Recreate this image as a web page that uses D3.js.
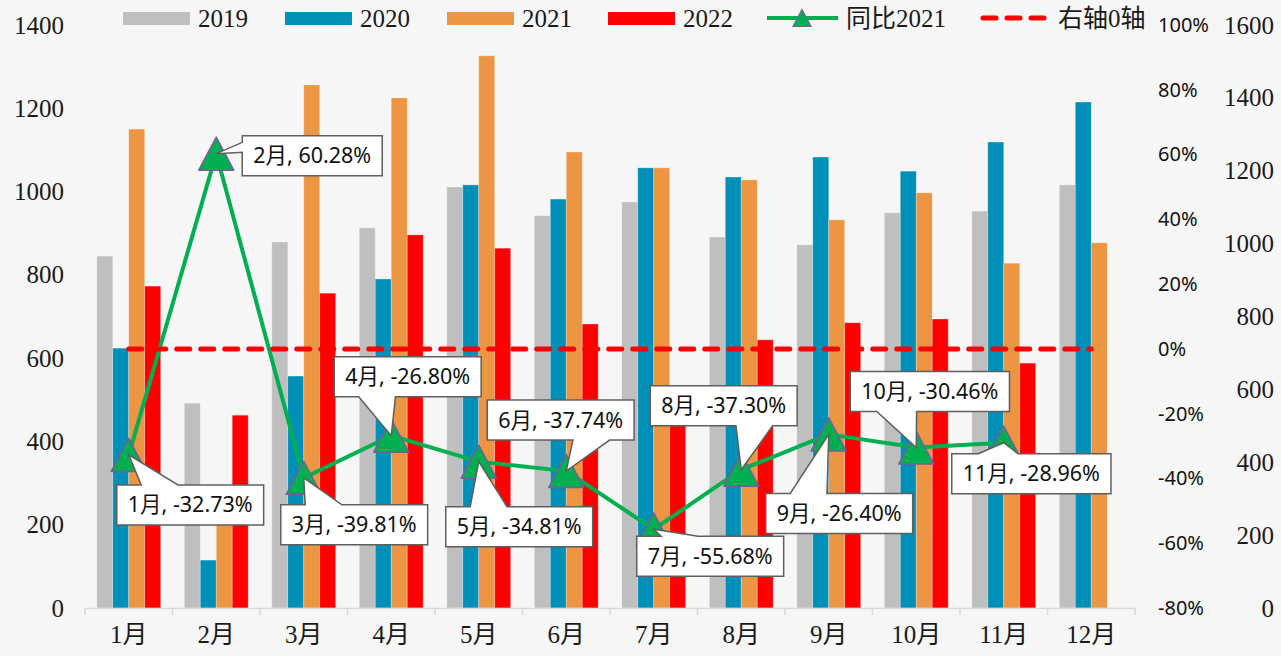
<!DOCTYPE html>
<html>
<head>
<meta charset="utf-8">
<script src="https://cdn.jsdelivr.net/npm/d3@7"></script>
<style>
  body { margin: 0; background: #f6f6f6; }
  svg { display: block; }
  .serif text, text.serif { font-family: "Liberation Serif", "Noto Sans CJK SC", serif; fill: #1a1a1a; }
  .sans text { font-family: "Noto Sans", "Noto Sans CJK SC", sans-serif; fill: #111; }
</style>
</head>
<body>
<div class="chart"></div>
<script>
// data
// ==========================================================================
var months = ["1月", "2月", "3月", "4月", "5月", "6月", "7月", "8月", "9月", "10月", "11月", "12月"];
var years = ["2019", "2020", "2021", "2022"];

var v2019 = [845, 492, 879, 913, 1011, 942, 975, 891, 872, 949, 953, 1016];
var v2020 = [624, 115, 557, 790, 1016, 982, 1057, 1035, 1083, 1049, 1119, 1215];
var v2021 = [1150, 223, 1256, 1225, 1326, 1095, 1057, 1028, 932, 997, 828, 877];
var v2022 = [773, 463, 756, 896, 864, 682, 468, 644, 685, 694, 588, null];

// 同比2021 (%), no value for 12月
var yoy = [-32.73, 60.28, -39.81, -26.80, -34.81, -37.74, -55.68, -37.30, -26.40, -30.46, -28.96];
// 右轴0轴
var zeroLine = [0, 0, 0, 0, 0, 0, 0, 0, 0, 0, 0, 0];

var leftTicks = [0, 200, 400, 600, 800, 1000, 1200, 1400];
var pctTicks = [-80, -60, -40, -20, 0, 20, 40, 60, 80, 100];
var rightTicks = [0, 200, 400, 600, 800, 1000, 1200, 1400, 1600];

// layout
// ==========================================================================
var svgWidth = 1281;
var svgHeight = 656;
var plot = { left: 85, right: 1135, top: 25, bottom: 608 };

var colors = { "2019": "#bfbfbf", "2020": "#008fb6", "2021": "#ec9542", "2022": "#ff0000" };
var lineColor = "#00b050";
var markerStroke = "#7a5c9e";

// callout box top-left offset from its point (px)
var labelOffsets = [[-12, 30], [26, -18], [-23, 27], [-57, -79], [-33, 45], [-79, -71],
  [-17, 7], [-91, -84], [-63, 59], [-66, -76], [-52, 11]];

var svg = d3.select(".chart")
  .append("svg")
  .attr("width", svgWidth)
  .attr("height", svgHeight);

svg.append("rect")
  .attr("width", svgWidth)
  .attr("height", svgHeight)
  .attr("fill", "#f6f6f6");

// scales
var x0 = d3.scaleBand().domain(months).range([plot.left, plot.right]);
var groupW = x0.bandwidth() * 0.73;
var x1 = d3.scaleBand().domain(years).range([0, groupW]);
var yLeft = d3.scaleLinear().domain([0, 1400]).range([plot.bottom, plot.top]);
var yPct = d3.scaleLinear().domain([-80, 100]).range([plot.bottom, plot.top]);
var yRight = d3.scaleLinear().domain([0, 1600]).range([plot.bottom, plot.top]);

var series = { "2019": v2019, "2020": v2020, "2021": v2021, "2022": v2022 };
var cx = function(i) { return x0(months[i]) + x0.bandwidth() / 2; };

// bars
var groups = svg.append("g").selectAll("g")
  .data(months)
  .enter()
  .append("g")
  .attr("transform", d => `translate(${x0(d) + (x0.bandwidth() - groupW) / 2},0)`);

groups.selectAll("rect")
  .data((m, i) => years.map(y => ({ year: y, value: series[y][i] })).filter(d => d.value != null))
  .enter()
  .append("rect")
  .attr("x", d => x1(d.year))
  .attr("width", x1.bandwidth())
  .attr("y", d => yLeft(d.value))
  .attr("height", d => yLeft(0) - yLeft(d.value))
  .attr("fill", d => colors[d.year])
  .attr("stroke", "#ffffff")
  .attr("stroke-opacity", 0.35)
  .attr("stroke-width", 0.8);

// x axis
var xAxisG = svg.append("g")
  .attr("class", "serif")
  .attr("transform", `translate(0, ${plot.bottom})`)
  .call(d3.axisBottom(x0).tickSize(0).tickPadding(17));
xAxisG.select(".domain").attr("stroke", "#d9d9d9").attr("stroke-width", 1.5);
xAxisG.selectAll("text").attr("font-size", 25);

svg.append("g").selectAll("line")
  .data(d3.range(months.length + 1))
  .enter()
  .append("line")
  .attr("x1", i => plot.left + i * x0.step())
  .attr("x2", i => plot.left + i * x0.step())
  .attr("y1", plot.bottom)
  .attr("y2", plot.bottom + 7)
  .attr("stroke", "#d9d9d9")
  .attr("stroke-width", 1.5);

// left axis
var leftAxis = svg.append("g")
  .attr("class", "serif")
  .attr("transform", `translate(${plot.left}, 0)`)
  .call(d3.axisLeft(yLeft).tickValues(leftTicks).tickSize(0).tickPadding(21).tickFormat(d3.format("d")));
leftAxis.select(".domain").remove();
leftAxis.selectAll("text").attr("font-size", 25);

// right percent axis
var pctAxis = svg.append("g")
  .attr("class", "sans")
  .attr("transform", `translate(${plot.right}, 0)`)
  .call(d3.axisRight(yPct).tickValues(pctTicks).tickSize(0).tickPadding(23).tickFormat(d => d + "%"));
pctAxis.select(".domain").remove();
pctAxis.selectAll("text").attr("font-size", 20).attr("fill", "#000");

// right count axis
var rightAxis = svg.append("g")
  .attr("class", "serif")
  .attr("transform", "translate(1274, 0)")
  .call(d3.axisLeft(yRight).tickValues(rightTicks).tickSize(0).tickPadding(0).tickFormat(d3.format("d")));
rightAxis.select(".domain").remove();
rightAxis.selectAll("text").attr("font-size", 25);

// 同比 line + markers
var line = d3.line()
  .x((d, i) => cx(i))
  .y(d => yPct(d));

svg.append("path")
  .datum(yoy)
  .attr("d", line)
  .attr("fill", "none")
  .attr("stroke", lineColor)
  .attr("stroke-width", 4)
  .attr("stroke-linejoin", "round");

var tri = function(x, y, w, h) {
  return `M${x},${y - h / 2}L${x + w / 2},${y + h / 2}L${x - w / 2},${y + h / 2}Z`;
};

svg.append("g").selectAll("path")
  .data(yoy)
  .enter()
  .append("path")
  .attr("d", (d, i) => tri(cx(i), yPct(d), 35, 33))
  .attr("fill", lineColor)
  .attr("stroke", markerStroke)
  .attr("stroke-width", 1.5)
  .attr("stroke-linejoin", "round");

// 右轴0轴 dashed
svg.append("path")
  .datum(zeroLine)
  .attr("d", line)
  .attr("fill", "none")
  .attr("stroke", "#ff0000")
  .attr("stroke-width", 5)
  .attr("stroke-linecap", "round")
  .attr("stroke-dasharray", "13,11");

// callouts, wedge placed like excel's wedgeRectCallout
function callout(x, y, w, h, tx, ty) {
  var dx = (tx - (x + w / 2)) / w;
  var dy = (ty - (y + h / 2)) / h;
  var p = [];
  if (Math.abs(dy) >= Math.abs(dx)) {
    var a = dx < 0 ? x + w * 2 / 12 : x + w * 7 / 12;
    var b = dx < 0 ? x + w * 5 / 12 : x + w * 10 / 12;
    if (dy < 0) {
      p = [[x, y], [a, y], [tx, ty], [b, y], [x + w, y], [x + w, y + h], [x, y + h]];
    } else {
      p = [[x, y], [x + w, y], [x + w, y + h], [b, y + h], [tx, ty], [a, y + h], [x, y + h]];
    }
  } else {
    var c = dy < 0 ? y + h * 2 / 12 : y + h * 7 / 12;
    var e = dy < 0 ? y + h * 5 / 12 : y + h * 10 / 12;
    if (dx < 0) {
      p = [[x, y], [x + w, y], [x + w, y + h], [x, y + h], [x, e], [tx, ty], [x, c]];
    } else {
      p = [[x, y], [x + w, y], [x + w, c], [tx, ty], [x + w, e], [x + w, y + h], [x, y + h]];
    }
  }
  return "M" + p.map(q => q.join(",")).join("L") + "Z";
}

var labels = svg.append("g").attr("class", "sans");
yoy.forEach(function(v, i) {
  var tx = cx(i), ty = yPct(v);
  var g = labels.append("g");
  var path = g.append("path")
    .attr("fill", "#ffffff")
    .attr("stroke", "#5f5f5f")
    .attr("stroke-width", 1.5)
    .attr("stroke-linejoin", "miter");
  var text = g.append("text")
    .attr("font-size", 21.5)
    .attr("text-anchor", "middle")
    .attr("fill", "#000")
    .text(`${months[i]}, ${v.toFixed(2)}%`);
  var w = text.node().getComputedTextLength() + 22;
  var h = 40;
  var bx = tx + labelOffsets[i][0], by = ty + labelOffsets[i][1];
  path.attr("d", callout(bx, by, w, h, tx, ty));
  text.attr("x", bx + w / 2).attr("y", by + h / 2).attr("dy", "0.35em");
});

// legend
var legend = svg.append("g").attr("class", "serif");
var legendX = [123, 285, 447, 608];
years.forEach(function(y, i) {
  legend.append("rect")
    .attr("x", legendX[i])
    .attr("y", 12)
    .attr("width", 67)
    .attr("height", 13)
    .attr("fill", colors[y]);
  legend.append("text")
    .attr("x", legendX[i] + 75)
    .attr("y", 18)
    .attr("dy", "0.35em")
    .attr("font-size", 25)
    .text(y);
});
legend.append("line")
  .attr("x1", 767).attr("x2", 838).attr("y1", 18).attr("y2", 18)
  .attr("stroke", lineColor).attr("stroke-width", 4);
legend.append("path")
  .attr("d", tri(802, 18, 18, 17))
  .attr("fill", lineColor)
  .attr("stroke", markerStroke)
  .attr("stroke-width", 1.2);
legend.append("text")
  .attr("x", 846).attr("y", 18).attr("dy", "0.35em")
  .attr("font-size", 25)
  .text("同比2021");
legend.append("line")
  .attr("x1", 983).attr("x2", 1046).attr("y1", 18).attr("y2", 18)
  .attr("stroke", "#ff0000").attr("stroke-width", 5)
  .attr("stroke-linecap", "round")
  .attr("stroke-dasharray", "13,11");
legend.append("text")
  .attr("x", 1058).attr("y", 18).attr("dy", "0.35em")
  .attr("font-size", 25)
  .text("右轴0轴");
</script>
</body>
</html>
